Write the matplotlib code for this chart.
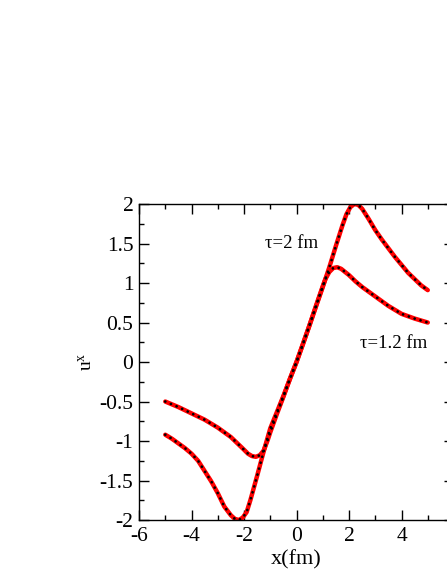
import matplotlib
matplotlib.use("Agg")
import matplotlib.pyplot as plt
from matplotlib.ticker import MultipleLocator, FuncFormatter

plt.rcParams["font.family"] = ["Liberation Serif", "DejaVu Serif"]
plt.rcParams["mathtext.fontset"] = "custom"
plt.rcParams["mathtext.rm"] = "Liberation Serif"
plt.rcParams["mathtext.it"] = "Liberation Serif:italic"
plt.rcParams["axes.unicode_minus"] = False

# u^x profile, tau = 2 fm
x_tau2 = [-5.0, -4.75, -4.5, -4.25, -4.0, -3.75, -3.5, -3.25, -3.0, -2.75, -2.5,
          -2.35, -2.2, -2.05, -1.9, -1.75, -1.5, -1.25, -1.0, -0.5, 0.0,
          0.5, 1.0, 1.25, 1.5, 1.75, 1.9, 2.05, 2.2, 2.35, 2.5, 2.75, 3.0,
          3.25, 3.5, 3.75, 4.0, 4.25, 4.5, 4.75, 5.0]
u_tau2 = [-0.92, -0.97, -1.03, -1.09, -1.16, -1.25, -1.38, -1.51, -1.66, -1.83,
          -1.94, -1.985, -2.0, -1.97, -1.90, -1.74, -1.44, -1.13, -0.84, -0.43,
          0.0, 0.47, 0.95, 1.20, 1.47, 1.73, 1.87, 1.96, 2.0, 1.99, 1.94, 1.81,
          1.67, 1.55, 1.44, 1.33, 1.23, 1.13, 1.05, 0.97, 0.91]

# u^x profile, tau = 1.2 fm
x_tau12 = [-5.0, -4.5, -4.0, -3.5, -3.0, -2.5, -2.25, -2.0, -1.85, -1.7, -1.55,
           -1.4, -1.25, -1.1, -1.0, -0.75, -0.5, -0.25, 0.0, 0.25, 0.5, 0.75,
           1.0, 1.1, 1.25, 1.4, 1.55, 1.7, 1.85, 2.0, 2.25, 2.5, 3.0, 3.5,
           4.0, 4.5, 5.0]
u_tau12 = [-0.50, -0.57, -0.65, -0.73, -0.83, -0.95, -1.03, -1.11, -1.16, -1.19,
           -1.20, -1.18, -1.12, -0.99, -0.89, -0.66, -0.44, -0.21, 0.0, 0.23,
           0.47, 0.72, 0.96, 1.05, 1.14, 1.19, 1.20, 1.18, 1.14, 1.10, 1.02,
           0.95, 0.83, 0.71, 0.61, 0.55, 0.50]

fig = plt.figure(figsize=(4.47, 5.78), dpi=100)
ax = fig.add_axes([0.311, 0.1003, 0.7047, 0.5467])

for xs, us in [(x_tau2, u_tau2), (x_tau12, u_tau12)]:
    ax.plot(xs, us, color="#ff0000", lw=3.2, solid_capstyle="round",
            solid_joinstyle="round", zorder=2)
    ax.plot(xs, us, color="black", lw=2.0, linestyle=(0, (0.01, 2.2)),
            dash_capstyle="round", zorder=3)

ax.set_xlim(-6, 6)
ax.set_ylim(-2, 2)
ax.xaxis.set_major_locator(MultipleLocator(2))
ax.xaxis.set_minor_locator(MultipleLocator(1))
ax.yaxis.set_major_locator(MultipleLocator(0.5))
ax.yaxis.set_minor_locator(MultipleLocator(0.25))
ax.tick_params(which="both", direction="in", top=True, right=True,
               labelsize=15.5, width=1.0)
ax.tick_params(which="major", length=7.2)
ax.tick_params(which="minor", length=3.6)
ax.tick_params(axis="x", pad=5)
ax.tick_params(axis="y", pad=4)
ax.xaxis.set_major_formatter(FuncFormatter(lambda v, p: "" if v > 5 else f"{v:g}"))
ax.yaxis.set_major_formatter(FuncFormatter(lambda v, p: f"{v:g}"))
for s in ax.spines.values():
    s.set_linewidth(1.0)

ax.text(-1.2, 1.5, "τ=2 fm", fontsize=13.5, va="center", ha="left")
ax.text(2.4, 0.24, "τ=1.2 fm", fontsize=13.5, va="center", ha="left")

ax.set_xlabel("x(fm)", fontsize=16)
ax.set_ylabel(r"u$^{\mathrm{x}}$", fontsize=14)
ax.xaxis.set_label_coords(0.5, -0.095)
ax.yaxis.set_label_coords(-0.14, 0.5)

fig.savefig("out.png", dpi=100)
